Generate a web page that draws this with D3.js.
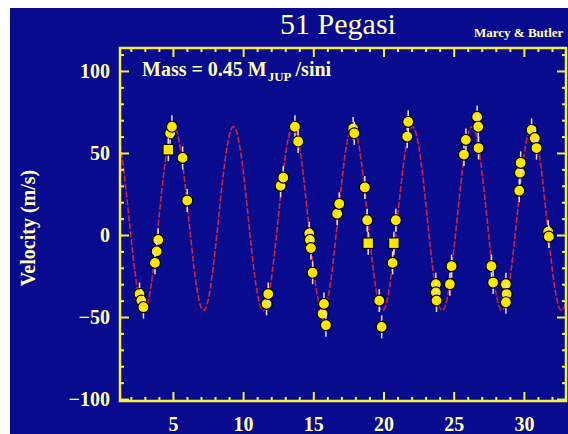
<!DOCTYPE html>
<html>
<head>
<meta charset="utf-8">
<script src="https://cdn.jsdelivr.net/npm/d3@7"></script>
<style>
  body { margin: 0; background: #ffffff; }
  svg { display: block; }
  text { font-family: "Liberation Serif", "DejaVu Serif", serif; }
</style>
</head>
<body>
<svg width="568" height="434"></svg>
<script>
// **** data ****
var days = [2.62, 2.75, 2.90, 3.95, 3.84, 3.72, 4.80, 4.93, 4.67, 5.69, 6.02,
    11.67, 11.79, 12.67, 12.86, 13.69, 13.92, 14.71, 14.76, 14.83, 14.95,
    15.66, 15.76, 15.90, 16.70, 16.85, 17.84, 17.92, 18.67, 18.84, 18.91,
    19.70, 19.87, 20.65, 20.74, 20.88, 21.69, 21.76, 23.73, 23.73, 23.78,
    24.73, 24.85, 25.73, 25.87, 26.67, 26.75, 26.77, 27.69, 27.81, 28.72,
    28.77, 28.72, 29.67, 29.72, 29.77, 30.55, 30.78, 30.90, 31.73, 31.78];
var velocities = [-36, -40, -44, -3, -10, -17, 62, 66, 52, 47, 21,
    -42, -36, 30, 35, 66, 57, 1, -3, -8, -23,
    -48, -42, -55, 13, 19, 65, 62, 29, 9, -5,
    -40, -56, -17, -5, 9, 60, 69, -30, -35, -40,
    -30, -19, 49, 58, 72, 66, 53, -19, -29, -30,
    -36, -41, 27, 38, 44, 64, 59, 53, 2, -1];
// the few points drawn as squares (index into the arrays above)
var squarePoints = [8, 30, 34];
var errorBar = 7;

// orbit fit drawn through the points: [period (d), day of a maximum, amplitude, offset]
var fit = [4.25, 9.31, 56, 10];

var xMajor = [5, 10, 15, 20, 25, 30];
var yMajor = [-100, -50, 0, 50, 100];

// **** scales ****
var svg = d3.select("svg");
var plotLeft = 120, plotRight = 566, plotTop = 48, plotBottom = 401;

var dayScale = d3.scaleLinear().domain([1.23, 33.0]).range([plotLeft, plotRight]);
var velScale = d3.scaleLinear().domain([-101.2, 114]).range([plotBottom, plotTop]);

var textColor = "#ffffb4", axisColor = "#f6ee3c";

svg.append("rect").attr("x", 10).attr("y", 8).attr("width", 558).attr("height", 426)
    .attr("fill", "#080b8e");

// **** curve ****
var curveDays = d3.range(dayScale.domain()[0], dayScale.domain()[1], 0.02);
var line = d3.line()
    .x(function (d) { return dayScale(d); })
    .y(function (d) { return velScale(fit[3] + fit[2] * Math.cos(2 * Math.PI * (d - fit[1]) / fit[0])); });
svg.append("path").datum(curveDays).attr("d", line)
    .attr("fill", "none").attr("stroke", "#cc2638").attr("stroke-width", 1.6)
    .attr("stroke-dasharray", "6,2");

// **** points ****
var pxPerUnit = velScale(0) - velScale(1);
var points = svg.selectAll(".pt").data(days).enter().append("g").attr("class", "pt")
    .attr("transform", function (d, i) {
        return "translate(" + dayScale(d) + "," + velScale(velocities[i]) + ")";
    });
points.append("line")
    .attr("y1", -errorBar * pxPerUnit).attr("y2", errorBar * pxPerUnit)
    .attr("stroke", "#e6e6dc").attr("stroke-width", 1.5);
points.each(function (d, i) {
    var g = d3.select(this);
    if (squarePoints.indexOf(i) >= 0) {
        g.append("rect").attr("x", -5.3).attr("y", -5.3).attr("width", 10.6).attr("height", 10.6);
    } else {
        g.append("circle").attr("r", 5.5);
    }
});
points.selectAll("circle, rect").attr("fill", "#ffe600").attr("stroke", "#000").attr("stroke-width", 1.2);

// **** axes ****
function styleAxis(g) {
    g.select(".domain").remove();
    g.selectAll("line").attr("stroke", axisColor).attr("stroke-width", 2);
    g.selectAll("text").attr("fill", textColor).attr("font-size", 20).attr("font-weight", "bold")
        .style("font-family", "'Liberation Serif', serif");
}
var xMinor = d3.range(2, 33, 1).filter(function (d) { return d % 5 != 0; });
var yMinor = d3.range(-90, 111, 10).filter(function (d) { return d % 50 != 0; });

svg.append("g").attr("transform", "translate(0," + plotBottom + ")")
    .call(d3.axisBottom(dayScale).tickValues(xMajor).tickSize(-9).tickPadding(16)).call(styleAxis);
svg.append("g").attr("transform", "translate(0," + plotBottom + ")")
    .call(d3.axisBottom(dayScale).tickValues(xMinor).tickSize(-4).tickFormat("")).call(styleAxis);
svg.append("g").attr("transform", "translate(0," + plotTop + ")")
    .call(d3.axisTop(dayScale).tickValues(xMajor).tickSize(-9).tickFormat("")).call(styleAxis);
svg.append("g").attr("transform", "translate(0," + plotTop + ")")
    .call(d3.axisTop(dayScale).tickValues(xMinor).tickSize(-4).tickFormat("")).call(styleAxis);

svg.append("g").attr("transform", "translate(" + plotLeft + ",0)")
    .call(d3.axisLeft(velScale).tickValues(yMajor).tickSize(-9).tickPadding(10)).call(styleAxis);
svg.append("g").attr("transform", "translate(" + plotLeft + ",0)")
    .call(d3.axisLeft(velScale).tickValues(yMinor).tickSize(-4).tickFormat("")).call(styleAxis);
svg.append("g").attr("transform", "translate(" + plotRight + ",0)")
    .call(d3.axisRight(velScale).tickValues(yMajor).tickSize(-9).tickFormat("")).call(styleAxis);
svg.append("g").attr("transform", "translate(" + plotRight + ",0)")
    .call(d3.axisRight(velScale).tickValues(yMinor).tickSize(-4).tickFormat("")).call(styleAxis);

svg.append("rect").attr("x", plotLeft).attr("y", plotTop)
    .attr("width", plotRight - plotLeft).attr("height", plotBottom - plotTop)
    .attr("fill", "none").attr("stroke", axisColor).attr("stroke-width", 2.5);

// **** labels ****
svg.append("text").attr("x", 338).attr("y", 34).attr("text-anchor", "middle")
    .attr("font-size", 30).attr("fill", textColor).text("51 Pegasi");

svg.append("text").attr("x", 474).attr("y", 37)
    .attr("font-size", 13).attr("font-weight", "bold").attr("fill", textColor).text("Marcy & Butler");

var mass = svg.append("text").attr("x", 142).attr("y", 76)
    .attr("font-size", 20).attr("font-weight", "bold").attr("fill", textColor);
mass.append("tspan").text("Mass = 0.45 M");
mass.append("tspan").attr("font-size", 13).attr("dy", 5).attr("dx", 1).text("JUP");
mass.append("tspan").attr("dy", -5).attr("dx", 4).text("/sini");

svg.append("text").attr("transform", "translate(35,228) rotate(-90)")
    .attr("text-anchor", "middle").attr("font-size", 20).attr("font-weight", "bold")
    .attr("fill", textColor).text("Velocity (m/s)");
</script>
</body>
</html>
